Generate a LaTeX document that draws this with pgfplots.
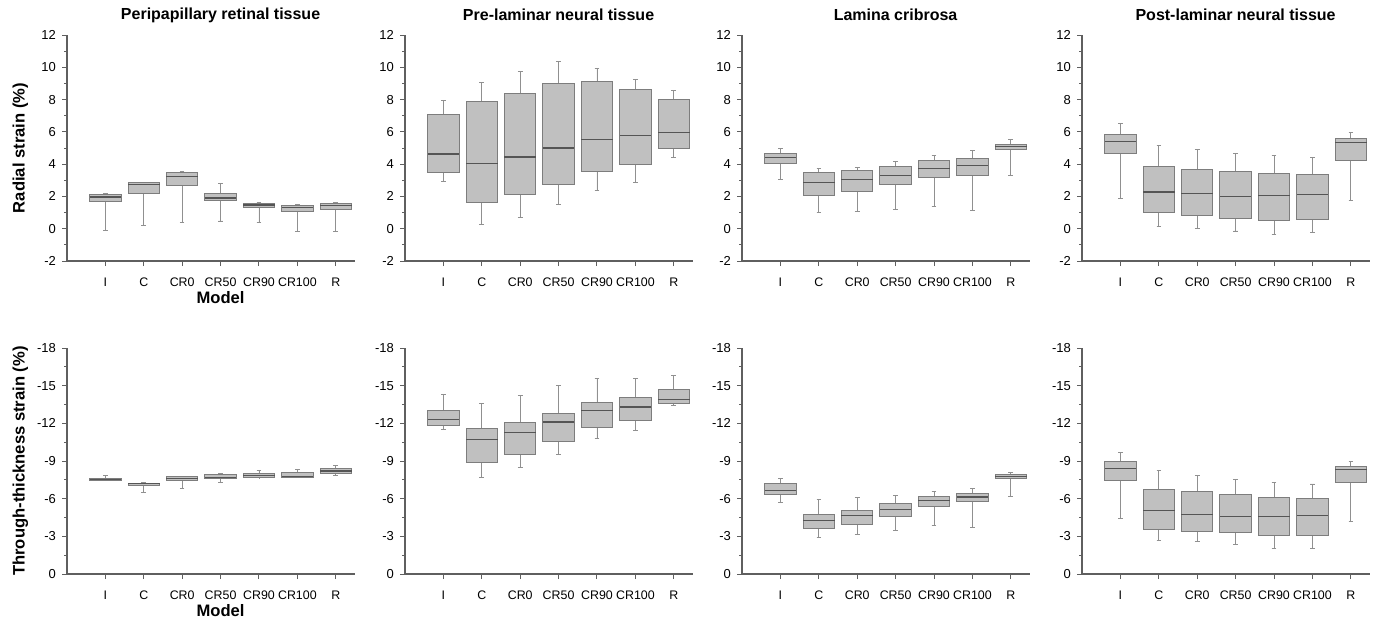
\documentclass[border=0pt]{standalone}
\usepackage{pgfplots}
\usepackage{pgfplotstable}
\usepgfplotslibrary{statistics}
\pgfplotsset{compat=1.18}
\usepackage{fontspec}
\setmainfont{Liberation Sans}

\definecolor{boxfill}{RGB}{192,192,192}
\definecolor{boxedge}{RGB}{125,125,125}
\definecolor{medline}{RGB}{85,85,85}
\definecolor{axisgray}{RGB}{95,95,95}

% columns: lower whisker, lower quartile, median, upper quartile, upper whisker
% rows: I, C, CR0, CR50, CR90, CR100, R
\pgfplotstableread{
lw lq med uq uw
-0.08 1.69 1.96 2.12 2.20
0.23 2.20 2.75 2.85 2.88
0.36 2.67 3.25 3.46 3.53
0.48 1.73 1.90 2.16 2.79
0.39 1.29 1.47 1.54 1.60
-0.17 1.05 1.29 1.42 1.52
-0.19 1.19 1.45 1.55 1.60
}\radA
\pgfplotstableread{
lw lq med uq uw
2.95 3.47 4.63 7.10 7.92
0.28 1.65 4.03 7.90 9.08
0.72 2.10 4.44 8.38 9.72
1.51 2.77 5.00 9.00 10.36
2.37 3.53 5.52 9.14 9.93
2.87 3.97 5.77 8.65 9.27
4.44 4.96 5.95 8.00 8.58
}\radB
\pgfplotstableread{
lw lq med uq uw
3.05 4.02 4.39 4.64 4.99
0.99 2.06 2.87 3.51 3.71
1.05 2.33 3.07 3.59 3.81
1.20 2.72 3.32 3.84 4.14
1.36 3.20 3.73 4.20 4.54
1.13 3.32 3.92 4.33 4.85
3.30 4.89 5.07 5.24 5.50
}\radC
\pgfplotstableread{
lw lq med uq uw
1.87 4.63 5.42 5.83 6.51
0.12 0.99 2.27 3.87 5.16
0.00 0.84 2.16 3.68 4.88
-0.14 0.66 2.02 3.54 4.69
-0.35 0.51 2.08 3.44 4.53
-0.23 0.55 2.12 3.37 4.42
1.73 4.22 5.35 5.56 5.95
}\radD
\pgfplotstableread{
lw lq med uq uw
-7.86 -7.63 -7.55 -7.47 -7.45
-7.26 -7.23 -7.18 -7.07 -6.50
-7.78 -7.74 -7.62 -7.42 -6.81
-8.02 -7.89 -7.71 -7.63 -7.26
-8.23 -8.00 -7.83 -7.68 -7.66
-8.34 -8.05 -7.79 -7.71 -7.66
-8.63 -8.39 -8.20 -7.97 -7.86
}\thkA
\pgfplotstableread{
lw lq med uq uw
-14.33 -13.06 -12.32 -11.84 -11.50
-13.61 -11.58 -10.71 -8.86 -7.72
-14.25 -12.03 -11.26 -9.54 -8.49
-14.99 -12.82 -12.11 -10.52 -9.52
-15.60 -13.64 -13.03 -11.63 -10.79
-15.60 -14.04 -13.30 -12.21 -11.45
-15.78 -14.72 -13.90 -13.61 -13.40
}\thkB
\pgfplotstableread{
lw lq med uq uw
-7.60 -7.20 -6.62 -6.35 -5.69
-5.96 -4.74 -4.26 -3.60 -2.91
-6.09 -5.08 -4.66 -3.97 -3.12
-6.27 -5.61 -5.16 -4.55 -3.49
-6.59 -6.19 -5.88 -5.37 -3.84
-6.80 -6.43 -6.14 -5.74 -3.71
-8.10 -7.91 -7.76 -7.60 -6.14
}\thkC
\pgfplotstableread{
lw lq med uq uw
-9.67 -8.96 -8.43 -7.46 -4.40
-8.25 -6.72 -5.03 -3.51 -2.66
-7.88 -6.54 -4.77 -3.35 -2.56
-7.54 -6.33 -4.61 -3.27 -2.37
-7.30 -6.11 -4.61 -3.06 -2.06
-7.17 -6.01 -4.64 -3.06 -2.03
-8.99 -8.59 -8.30 -7.27 -4.22
}\thkD

\pgfplotsset{
  panel/.style={
    scale only axis, width=144pt, height=113pt,
    axis x line*=bottom, axis y line*=left,
    axis line style={axisgray, line width=0.6pt, -},
    xmin=-1, xmax=6.5,
    xtick={0,...,6},
    xticklabels={I,C,CR0,CR50,CR90,CR100,R},
    tick align=outside,
    major tick length=2.5pt, minor tick length=1.5pt,
    tick style={axisgray, line width=0.5pt},
    minor y tick num=1,
    xticklabel style={font=\fontsize{6.2}{7.2}\selectfont, yshift=-2.5pt},
    yticklabel style={font=\fontsize{6.5}{7.5}\selectfont, xshift=0.5pt},
    /pgf/number format/assume math mode=true,
    title style={font=\bfseries\fontsize{8}{9}\selectfont,
      at={(axis description cs:0.5333,1)}, anchor=center, yshift=4pt},
    ylabel style={font=\bfseries\fontsize{8.3}{9}\selectfont,
      at={(axis description cs:-0.162,0.5)}, anchor=center},
    xlabel style={font=\bfseries\fontsize{8.3}{9}\selectfont,
      at={(axis description cs:0.5333,0)}, anchor=center, yshift=-18.5pt},
    clip=false,
  },
  toprow/.style={panel, ymin=-2, ymax=12, ytick={-2,0,...,12}},
  botrow/.style={panel, ymin=-18, ymax=0, ytick={-18,-15,...,0}, y dir=reverse},
  boxstyle/.style={draw=boxedge, fill=boxfill, line width=0.5pt, mark=none,
    boxplot/draw direction=y,
    boxplot/box extend=0.82, boxplot/whisker extend=0.12,
    boxplot/every median/.style={draw=medline, line width=0.6pt},
    boxplot/every whisker/.style={draw=boxedge!85, line width=0.45pt}},
}

% one box per table row, drawn at positions 0..6
\newcommand{\boxes}[1]{%
  \pgfplotsinvokeforeach{0,...,6}{%
    \pgfplotstablegetelem{##1}{lw}\of{#1}\edef\bLW{\pgfplotsretval}%
    \pgfplotstablegetelem{##1}{lq}\of{#1}\edef\bLQ{\pgfplotsretval}%
    \pgfplotstablegetelem{##1}{med}\of{#1}\edef\bMED{\pgfplotsretval}%
    \pgfplotstablegetelem{##1}{uq}\of{#1}\edef\bUQ{\pgfplotsretval}%
    \pgfplotstablegetelem{##1}{uw}\of{#1}\edef\bUW{\pgfplotsretval}%
    \edef\doplot{\noexpand\addplot[boxstyle,
      boxplot prepared={draw position=##1,
        lower whisker=\bLW, lower quartile=\bLQ, median=\bMED,
        upper quartile=\bUQ, upper whisker=\bUW}] coordinates {};}%
    \doplot
  }%
}

\begin{document}
\begin{tikzpicture}
\useasboundingbox (0,0) rectangle (689.5pt,-310.5pt);

% top row: radial strain
\begin{axis}[toprow, at={(33.5pt,-130.5pt)}, anchor=south west,
  title={Peripapillary retinal tissue}, ylabel={Radial strain (\%)}, xlabel={Model}]
\boxes{\radA}
\end{axis}
\begin{axis}[toprow, at={(202.5pt,-130.5pt)}, anchor=south west,
  title={Pre-laminar neural tissue}]
\boxes{\radB}
\end{axis}
\begin{axis}[toprow, at={(371pt,-130.5pt)}, anchor=south west,
  title={Lamina cribrosa}]
\boxes{\radC}
\end{axis}
\begin{axis}[toprow, at={(541pt,-130.5pt)}, anchor=south west,
  title={Post-laminar neural tissue}]
\boxes{\radD}
\end{axis}

% bottom row: through-thickness strain
\begin{axis}[botrow, at={(33.5pt,-287pt)}, anchor=south west,
  ylabel={Through-thickness strain (\%)}, xlabel={Model}]
\boxes{\thkA}
\end{axis}
\begin{axis}[botrow, at={(202.5pt,-287pt)}, anchor=south west]
\boxes{\thkB}
\end{axis}
\begin{axis}[botrow, at={(371pt,-287pt)}, anchor=south west]
\boxes{\thkC}
\end{axis}
\begin{axis}[botrow, at={(541pt,-287pt)}, anchor=south west]
\boxes{\thkD}
\end{axis}
\end{tikzpicture}
\end{document}
